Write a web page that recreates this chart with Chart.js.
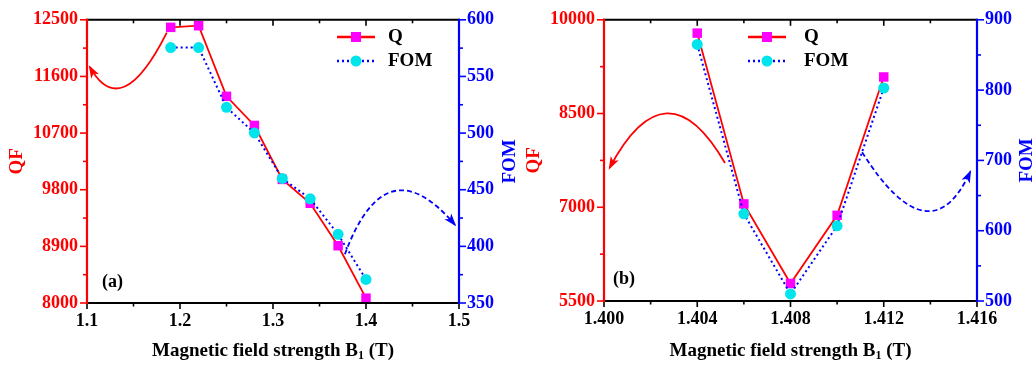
<!DOCTYPE html>
<html>
<head>
<meta charset="utf-8">
<script src="https://cdn.jsdelivr.net/npm/chart.js@4/dist/chart.umd.min.js"></script>
<style>
  html, body { margin: 0; padding: 0; background: #fff; }
  #wrap { position: relative; width: 1035px; height: 367px; }
  canvas { position: absolute; top: 0; }
</style>
</head>
<body>
<div id="wrap">
  <canvas id="chart-a" width="517" height="367" style="left:0"></canvas>
  <canvas id="chart-b" width="518" height="367" style="left:517px"></canvas>
</div>
<script>
// panel (a): wide sweep of B1
const fieldA = [1.19, 1.22, 1.25, 1.28, 1.31, 1.34, 1.37, 1.40];
const qA     = [12380, 12406, 11284, 10821, 9964, 9585, 8910, 8077];
const fomA   = [575.5, 575.5, 522.7, 500.1, 460, 442, 410.6, 370.8];

// panel (b): fine sweep around 1.408 T
const fieldB = [1.404, 1.406, 1.408, 1.410, 1.412];
const qB     = [9787, 7054, 5780, 6871, 9085];
const fomB   = [865, 624, 510, 607, 803];

// curved arrows pointing to the axis each curve belongs to (start, apex, end in data units)
const arrowAQ   = [[1.1858, 12297], [1.1406, 11440], [1.103, 11752]];
const arrowAFom = [[1.3773, 393], [1.4289, 448.5], [1.4956, 419]];
const arrowBQ   = [[1.40519, 7708], [1.40269, 8503], [1.40024, 7630]];
const arrowBFom = [[1.41107, 711.6], [1.41369, 628.4], [1.41571, 683.9]];

const FONT = '"Liberation Serif","Times New Roman",serif';
const RED = '#ff0000', BLUE = '#0000ff', MAG = '#ff00ff', CYAN = '#00e5ec';

function isMajor(v, min, step) {
  const k = (v - min) / step;
  return Math.abs(k - Math.round(k)) < 1e-6;
}

// axis lines, tick marks, titles, legend, arrows
const decor = {
  id: 'decor',
  afterDraw(chart, args, o) {
    const { ctx, chartArea: a, scales } = chart;
    ctx.save();
    const seg = (x1, y1, x2, y2, c, w) => {
      ctx.strokeStyle = c; ctx.lineWidth = w; ctx.setLineDash([]);
      ctx.beginPath(); ctx.moveTo(x1, y1); ctx.lineTo(x2, y2); ctx.stroke();
    };
    // ticks
    const xs = scales.x, yl = scales.y, yr = scales.y2;
    xs.ticks.forEach(t => {
      const px = xs.getPixelForValue(t.value);
      const L = isMajor(t.value, xs.min, o.xMajor) ? 6 : 3.5;
      seg(px, a.bottom, px, a.bottom + L, '#000', 1.6);
      seg(px, a.top, px, a.top + L, '#000', 1.6);
    });
    yl.ticks.forEach(t => {
      const py = yl.getPixelForValue(t.value);
      const L = isMajor(t.value, yl.min, o.yMajor) ? 7 : 4;
      seg(a.left - L, py, a.left, py, RED, 1.6);
    });
    yr.ticks.forEach(t => {
      const py = yr.getPixelForValue(t.value);
      const L = isMajor(t.value, yr.min, o.y2Major) ? 7 : 4;
      seg(a.right, py, a.right + L, py, BLUE, 1.6);
    });
    // frame
    seg(a.left - 1, a.top, a.right + 1, a.top, '#000', 2);
    seg(a.left - 1, a.bottom, a.right + 1, a.bottom, '#000', 2);
    seg(a.left, a.top - 1, a.left, a.bottom + 1, RED, 2.2);
    seg(a.right, a.top - 1, a.right, a.bottom + 1, BLUE, 2.2);

    // arrows
    const arrow = (pts, sc, color, dash) => {
      const p = pts.map(([x, y]) => [xs.getPixelForValue(x), sc.getPixelForValue(y)]);
      const [s, m, e] = p;
      const c = [2 * m[0] - (s[0] + e[0]) / 2, 2 * m[1] - (s[1] + e[1]) / 2];
      ctx.strokeStyle = color; ctx.lineWidth = 1.8; ctx.setLineDash(dash);
      ctx.beginPath(); ctx.moveTo(s[0], s[1]); ctx.quadraticCurveTo(c[0], c[1], e[0], e[1]); ctx.stroke();
      ctx.setLineDash([]);
      const ang = Math.atan2(e[1] - c[1], e[0] - c[0]);
      const len = 11, hw = 4.5;
      ctx.fillStyle = color;
      ctx.beginPath();
      ctx.moveTo(e[0] + Math.cos(ang) * 2, e[1] + Math.sin(ang) * 2);
      ctx.lineTo(e[0] - Math.cos(ang) * len + Math.sin(ang) * hw, e[1] - Math.sin(ang) * len - Math.cos(ang) * hw);
      ctx.lineTo(e[0] - Math.cos(ang) * len * 0.7, e[1] - Math.sin(ang) * len * 0.7);
      ctx.lineTo(e[0] - Math.cos(ang) * len - Math.sin(ang) * hw, e[1] - Math.sin(ang) * len + Math.cos(ang) * hw);
      ctx.closePath(); ctx.fill();
    };
    arrow(o.arrowQ, yl, RED, []);
    arrow(o.arrowFom, yr, BLUE, [5, 3]);

    // axis titles
    ctx.font = 'bold 19px ' + FONT;
    ctx.textAlign = 'center'; ctx.textBaseline = 'middle';
    const midY = (a.top + a.bottom) / 2;
    ctx.fillStyle = RED;
    ctx.save(); ctx.translate(17, midY); ctx.rotate(-Math.PI / 2); ctx.fillText('QF', 0, 0); ctx.restore();
    ctx.fillStyle = BLUE;
    ctx.save(); ctx.translate(510, midY); ctx.rotate(-Math.PI / 2); ctx.fillText('FOM', 0, 0); ctx.restore();

    ctx.fillStyle = '#000';
    const t1 = 'Magnetic field strength B', t2 = '1', t3 = ' (T)';
    ctx.font = 'bold 19px ' + FONT;
    const w1 = ctx.measureText(t1).width, w3 = ctx.measureText(t3).width;
    ctx.font = 'bold 12px ' + FONT;
    const w2 = ctx.measureText(t2).width;
    let x0 = (a.left + a.right) / 2 - (w1 + w2 + w3) / 2;
    const ty = 350;
    ctx.textAlign = 'left'; ctx.textBaseline = 'alphabetic';
    ctx.font = 'bold 19px ' + FONT; ctx.fillText(t1, x0, ty + 6);
    ctx.font = 'bold 12px ' + FONT; ctx.fillText(t2, x0 + w1, ty + 9);
    ctx.font = 'bold 19px ' + FONT; ctx.fillText(t3, x0 + w1 + w2, ty + 6);

    // panel tag
    ctx.font = 'bold 18px ' + FONT;
    ctx.textBaseline = 'middle';
    ctx.fillText(o.tag, o.tagX, o.tagY);

    // legend
    const lx = o.legX, rows = [o.legY, o.legY + 24];
    seg(lx, rows[0], lx + 38, rows[0], RED, 2.5);
    ctx.fillStyle = MAG; ctx.fillRect(lx + 19 - 5, rows[0] - 5, 10, 10);
    ctx.strokeStyle = BLUE; ctx.lineWidth = 2.5; ctx.setLineDash([2, 3]);
    ctx.beginPath(); ctx.moveTo(lx, rows[1]); ctx.lineTo(lx + 38, rows[1]); ctx.stroke();
    ctx.setLineDash([]);
    ctx.fillStyle = CYAN; ctx.beginPath(); ctx.arc(lx + 19, rows[1], 5.5, 0, Math.PI * 2); ctx.fill();
    ctx.fillStyle = '#000'; ctx.font = 'bold 19px ' + FONT; ctx.textAlign = 'left';
    ctx.fillText('Q', lx + o.legText, rows[0]);
    ctx.fillText('FOM', lx + o.legText, rows[1]);
    ctx.restore();
  }
};

function build(id, field, q, fom, cfg) {
  const xy = (vals) => field.map((x, i) => ({ x, y: vals[i] }));
  const tickFont = { family: FONT, size: 18, weight: 'bold' };
  return new Chart(document.getElementById(id), {
    type: 'line',
    data: {
      datasets: [
        {
          label: 'FOM', data: xy(fom), yAxisID: 'y2', order: 0,
          borderColor: BLUE, borderWidth: 2, borderDash: [2, 3],
          pointStyle: 'circle', pointRadius: 5.5, pointBackgroundColor: CYAN, pointBorderWidth: 0,
          tension: 0, clip: false
        },
        {
          label: 'Q', data: xy(q), yAxisID: 'y', order: 1,
          borderColor: RED, borderWidth: 1.8,
          pointStyle: 'rect', pointRadius: 6.7, pointBackgroundColor: MAG, pointBorderWidth: 0,
          tension: 0, clip: false
        }
      ]
    },
    options: {
      responsive: false, animation: false, devicePixelRatio: 1,
      layout: { padding: { top: cfg.top, left: 0, right: 0, bottom: 0 } },
      plugins: { legend: { display: false }, tooltip: { enabled: false }, decor: cfg.decor },
      scales: {
        x: {
          type: 'linear', min: cfg.x[0], max: cfg.x[1],
          afterFit: s => { s.height = 367 - cfg.top - 289; },
          grid: { display: false, drawTicks: false }, border: { display: false },
          ticks: {
            stepSize: cfg.x[2] / 2, autoSkip: false, maxRotation: 0, padding: 8,
            color: '#000', font: tickFont,
            callback: v => isMajor(v, cfg.x[0], cfg.x[2]) ? v.toFixed(cfg.x[3]) : ''
          }
        },
        y: {
          position: 'left', min: cfg.y[0], max: cfg.y[1],
          afterFit: s => { s.width = 87; },
          grid: { display: false, drawTicks: false }, border: { display: false },
          ticks: {
            stepSize: cfg.y[2] / 2, autoSkip: false, padding: 9, color: RED, font: tickFont,
            callback: v => isMajor(v, cfg.y[0], cfg.y[2]) ? String(Math.round(v)) : ''
          }
        },
        y2: {
          position: 'right', min: cfg.y2[0], max: cfg.y2[1],
          afterFit: s => { s.width = 58; },
          grid: { display: false, drawTicks: false }, border: { display: false },
          ticks: {
            stepSize: cfg.y2[2] / 2, autoSkip: false, padding: 8, color: BLUE, font: tickFont,
            callback: v => isMajor(v, cfg.y2[0], cfg.y2[2]) ? String(Math.round(v)) : ''
          }
        }
      }
    },
    plugins: [decor]
  });
}

build('chart-a', fieldA, qA, fomA, {
  top: 14,
  x: [1.1, 1.5, 0.1, 1], y: [8000, 12500, 900], y2: [350, 600, 50],
  decor: {
    xMajor: 0.1, yMajor: 900, y2Major: 50,
    arrowQ: arrowAQ, arrowFom: arrowAFom,
    tag: '(a)', tagX: 102, tagY: 282,
    legX: 337, legY: 37, legText: 51
  }
});

build('chart-b', fieldB, qB, fomB, {
  top: 12,
  x: [1.400, 1.416, 0.004, 3], y: [5500, 10000, 1500], y2: [500, 900, 100],
  decor: {
    xMajor: 0.004, yMajor: 1500, y2Major: 100,
    arrowQ: arrowBQ, arrowFom: arrowBFom,
    tag: '(b)', tagX: 96, tagY: 279,
    legX: 231, legY: 37, legText: 56
  }
});
</script>
</body>
</html>
